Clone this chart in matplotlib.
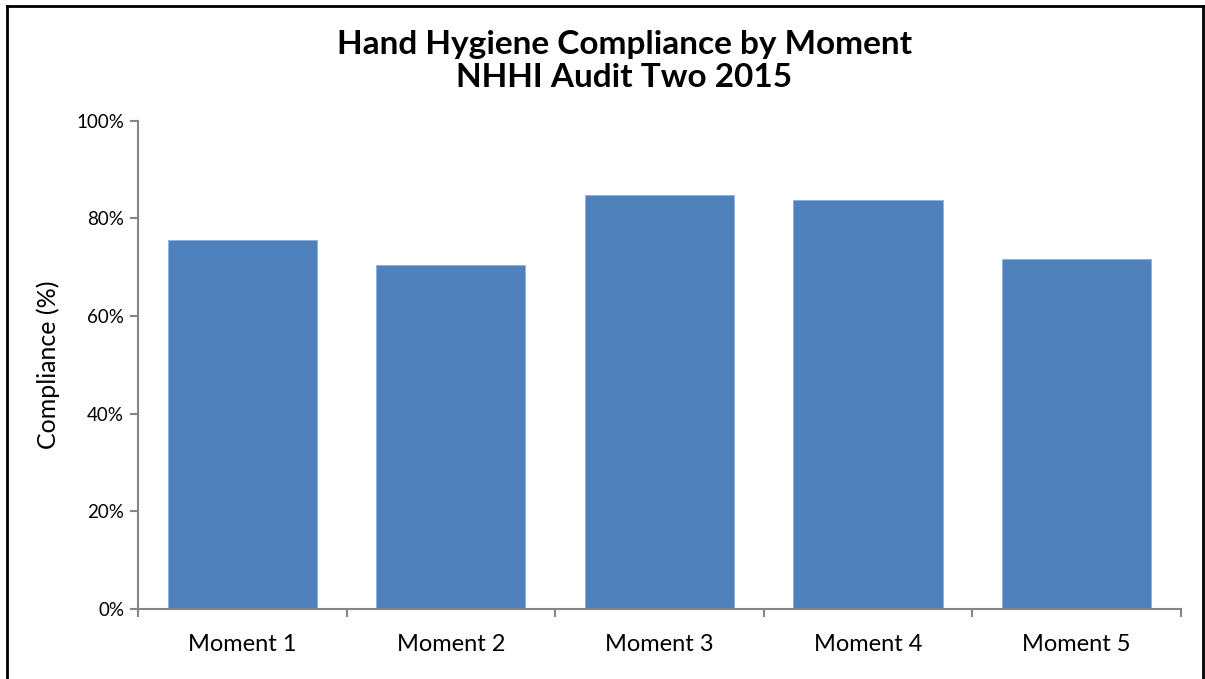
import numpy as np
import matplotlib
matplotlib.use("Agg")
import matplotlib.pyplot as plt
from matplotlib.ticker import PercentFormatter, FixedLocator
from matplotlib.lines import Line2D

moments = ["Moment 1", "Moment 2", "Moment 3", "Moment 4", "Moment 5"]
compliance = [75.5, 70.4, 84.8, 83.7, 71.6]
y_ticks = [0, 20, 40, 60, 80, 100]

plt.rcParams['font.family'] = ['Lato', 'DejaVu Sans']

fig = plt.figure(figsize=(12.05, 6.79), dpi=100)
ax = fig.add_axes([0.1145, 0.1035, 0.8655, 0.7187])

x = np.arange(len(moments))
ax.bar(x, compliance, width=0.715, color="#4F81BD", edgecolor="#8DB0DC", linewidth=0.6)

ax.set_xlim(-0.5, len(moments) - 0.5)
ax.set_ylim(0, 100)
ax.set_yticks(y_ticks)
ax.yaxis.set_major_formatter(PercentFormatter(decimals=0))
ax.set_xticks(x)
ax.set_xticklabels(moments, fontsize=17)
ax.xaxis.set_minor_locator(FixedLocator(np.arange(-0.5, len(moments), 1)))
ax.tick_params(axis="x", which="major", length=0, pad=18)
ax.tick_params(axis="x", which="minor", length=6, width=1.5, color="#868686", direction="out")
ax.tick_params(axis="y", length=6, width=1.5, color="#868686", labelsize=13.5, pad=4)

for side in ["top", "right"]:
    ax.spines[side].set_visible(False)
for side in ["left", "bottom"]:
    ax.spines[side].set_color("#868686")
    ax.spines[side].set_linewidth(1.5)

ax.set_ylabel("Compliance (%)", fontsize=18, labelpad=12)
fig.text(0.518, 0.91, "Hand Hygiene Compliance by Moment\nNHHI Audit Two 2015",
         fontsize=24, fontweight="bold", ha="center", va="center", linespacing=1.15)

# border around the chart (bottom edge is cut off)
fig.add_artist(Line2D([0.006, 0.006], [0, 0.991], color="black", lw=2, transform=fig.transFigure))
fig.add_artist(Line2D([0.006, 0.998], [0.991, 0.991], color="black", lw=2, transform=fig.transFigure))
fig.add_artist(Line2D([0.998, 0.998], [0, 0.991], color="black", lw=2, transform=fig.transFigure))

fig.savefig("out.png", dpi=100)
